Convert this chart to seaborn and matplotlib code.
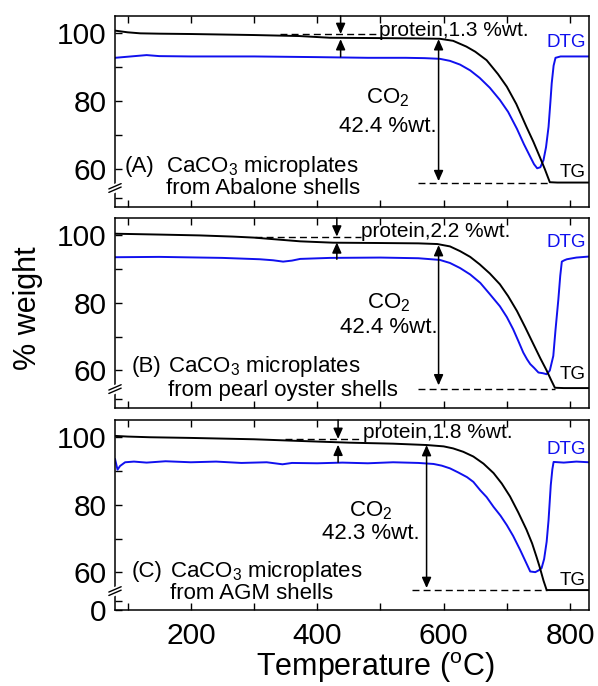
import numpy as np
import pandas as pd
import matplotlib
matplotlib.use("Agg")
import matplotlib.pyplot as plt
from matplotlib.ticker import FixedLocator, NullFormatter, FixedFormatter
import seaborn as sns

# ---------------- data ----------------
temp_tg_A = [80, 100, 120, 150, 200, 300, 372, 420, 500, 560, 594, 615, 636, 650, 668, 686,
             700, 715, 731, 742, 752, 760, 768, 780, 830]
tg_A = [100.8, 100.3, 100.0, 99.9, 99.8, 99.5, 99.2, 98.7, 98.6, 98.5, 98.4, 97.8, 96.1, 94.6,
        92.1, 88.0, 84.3, 79.2, 72.5, 68.1, 63.7, 60.1, 56.2, 56.1, 56.1]
temp_dtg_A = [80, 130, 150, 200, 300, 400, 480, 540, 570, 594, 610, 626, 642, 657, 673, 689,
              702, 716, 727, 737, 743, 748, 753, 758, 762, 766, 769, 771, 774, 777, 785, 830]
dtg_A = [92.8, 93.6, 93.3, 93.2, 93.2, 93.0, 92.8, 92.8, 92.7, 92.5, 91.9, 90.8, 89.1, 86.9,
         84.0, 80.4, 76.9, 71.9, 67.4, 63.7, 61.5, 60.3, 60.6, 62.7, 66.5, 72.5, 80.0, 85.3,
         90.5, 92.8, 93.2, 93.2]

temp_tg_B = [80, 150, 214, 267, 300, 373, 425, 500, 560, 590, 610, 626, 642, 657, 673, 689,
             702, 716, 729, 742, 753, 763, 770, 776, 790, 830]
tg_B = [100.45, 100.2, 99.95, 99.6, 99.3, 98.2, 97.8, 97.7, 97.6, 97.4, 96.7, 95.3, 93.6, 91.4,
        88.7, 85.5, 82.0, 77.6, 72.8, 67.8, 63.6, 60.0, 57.2, 54.9, 54.8, 54.8]
temp_dtg_B = [80, 150, 250, 309, 330, 346, 360, 373, 420, 500, 560, 594, 610, 626, 642, 658,
              673, 689, 700, 710, 718, 726, 732, 737, 743, 750, 757, 763, 768, 773.5, 777,
              781.5, 784.5, 787, 791, 795, 810, 830]
dtg_B = [93.5, 93.6, 93.3, 92.9, 92.6, 92.2, 92.5, 93.0, 93.3, 93.4, 93.2, 92.7, 91.8, 90.3,
         88.4, 85.9, 82.6, 79.0, 75.8, 72.2, 68.8, 65.3, 63.3, 61.9, 60.8, 59.4, 59.2, 58.9,
         60.0, 64.3, 72.0, 81.0, 88.0, 92.2, 92.6, 92.9, 93.4, 93.7]

temp_tg_C = [80, 100, 135, 200, 300, 373, 450, 520, 573, 600, 615, 631, 647, 663, 679, 692,
             705, 718, 731, 740, 747, 752, 758, 763, 780, 830]
tg_C = [100.4, 100.2, 100.0, 99.8, 99.4, 98.9, 98.4, 98.1, 97.7, 97.3, 96.7, 95.7, 94.3, 92.2,
        89.4, 86.3, 82.5, 77.8, 72.7, 68.6, 64.6, 61.6, 57.6, 54.8, 54.8, 54.8]
temp_dtg_C = [80, 84, 88, 96, 110, 130, 160, 200, 240, 280, 320, 345, 360, 400, 440, 480, 520,
              560, 584, 597, 610, 623, 637, 647, 658, 668, 679, 690, 700, 710, 721, 729, 737,
              745, 750, 755, 759, 763, 766, 769.5, 772, 774, 790, 810, 830]
dtg_C = [93.6, 90.4, 91.5, 92.6, 92.8, 92.5, 92.9, 92.6, 92.8, 92.4, 92.6, 92.0, 92.4, 92.3,
         92.5, 92.3, 92.6, 92.4, 92.1, 91.6, 90.8, 89.6, 88.2, 86.8, 84.3, 82.3, 79.4, 76.8,
         74.0, 70.8, 66.7, 63.5, 60.3, 60.1, 60.6, 61.3, 64.0, 69.1, 75.5, 85.8, 90.5, 92.7,
         92.5, 92.8, 92.6]

panel_letters = ["(A)", "(B)", "(C)"]
panel_sources = ["from Abalone shells", "from pearl oyster shells", "from AGM shells"]
protein_pct = ["1.3", "2.2", "1.8"]
co2_pct = ["42.4", "42.4", "42.3"]
# reference levels used by the guide lines / arrows
initial_level = [99.8, 99.6, 99.5]
final_level = [56.1, 54.6, 54.8]
plateau_level = [98.3, 97.9, 97.8]
dtg_base = [93.1, 92.9, 92.6]
co2_top = [98.3, 97.1, 97.7]
co2_bottom = [56.5, 55.6, 55.4]

x_ticks_major = [200, 400, 600, 800]
x_ticks_minor = [100, 300, 500, 700]
y_ticks_major = [60, 80, 100]
y_ticks_minor = [25, 70, 90]

# ---------------- style ----------------
sns.set_theme(style="ticks")
plt.rcParams.update({
    "font.family": ["Liberation Sans", "DejaVu Sans"],
    "mathtext.fontset": "custom",
    "mathtext.rm": "Liberation Sans",
    "mathtext.it": "Liberation Sans:italic",
    "mathtext.default": "regular",
    "axes.linewidth": 1.1,
    "axes.edgecolor": "black",
    "xtick.direction": "in",
    "ytick.direction": "in",
})

BLUE = "#1010ee"
BRK = 54.5
K = 0.1026


def fwd(y):
    y = np.asarray(y, dtype=float)
    return np.where(y >= BRK, y, BRK - (BRK - y) * K)


def inv(t):
    t = np.asarray(t, dtype=float)
    return np.where(t >= BRK, t, BRK - (BRK - t) / K)


fig = plt.figure(figsize=(5.98, 6.86), dpi=100)
left, width = 115 / 598, 474 / 598
tops = [16, 218, 420]
heights = [191, 190, 190]

panels = [
    (temp_tg_A, tg_A, temp_dtg_A, dtg_A),
    (temp_tg_B, tg_B, temp_dtg_B, dtg_B),
    (temp_tg_C, tg_C, temp_dtg_C, dtg_C),
]

# layout per panel (axes fractions / temperatures)
lay = [
    dict(letter=(0.021, 0.182), src=(0.107, 0.182, 0.066), prot=(0.558, 0.895), prot_x=437,
         co2=(0.576, 0.543, 0.394), co2_x=592, dash_top=(341, 494), dash_bot=(559, 768),
         dtg_lab=0.860, tg_lab=0.180),
    dict(letter=(0.035, 0.187), src=(0.112, 0.187, 0.064), prot=(0.520, 0.899), prot_x=431,
         co2=(0.577, 0.522, 0.396), co2_x=592, dash_top=(301, 470), dash_bot=(560, 776),
         dtg_lab=0.871, tg_lab=0.178),
    dict(letter=(0.035, 0.176), src=(0.116, 0.176, 0.058), prot=(0.524, 0.904), prot_x=433,
         co2=(0.540, 0.494, 0.375), co2_x=573, dash_top=(349, 467), dash_bot=(550, 763),
         dtg_lab=0.847, tg_lab=0.153),
]

axes = []
for i, (ttg, tg, tdtg, dtg) in enumerate(panels):
    bottom = 1 - (tops[i] + heights[i]) / 686
    ax = fig.add_axes([left, bottom, width, heights[i] / 686],
                      sharex=axes[0] if axes else None)
    axes.append(ax)
    ax.set_yscale("function", functions=(fwd, inv))

    df_tg = pd.DataFrame({"T": ttg, "w": tg})
    df_dtg = pd.DataFrame({"T": tdtg, "w": dtg})
    sns.lineplot(data=df_dtg, x="T", y="w", ax=ax, color=BLUE, lw=1.4, sort=False,
                 estimator=None)
    sns.lineplot(data=df_tg, x="T", y="w", ax=ax, color="black", lw=1.4, sort=False,
                 estimator=None)

    ax.set_xlim(80, 830)
    ax.set_ylim(0, 105.1)
    ax.set_xlabel("")
    ax.set_ylabel("")

    yt = y_ticks_major + ([0] if i == 2 else [])
    ax.yaxis.set_major_locator(FixedLocator(yt))
    ax.yaxis.set_major_formatter(FixedFormatter([str(v) for v in yt]))
    ax.yaxis.set_minor_locator(FixedLocator(y_ticks_minor))
    ax.yaxis.set_minor_formatter(NullFormatter())
    ax.xaxis.set_major_locator(FixedLocator(x_ticks_major))
    ax.xaxis.set_minor_locator(FixedLocator(x_ticks_minor))
    ax.tick_params(axis="both", which="both", direction="in", length=5, width=1.0,
                   top=True, right=False, colors="black")
    ax.tick_params(axis="y", labelsize=21.5, pad=6)
    ax.tick_params(axis="x", labelsize=21.5, pad=9, labelbottom=(i == 2))
    for s in ax.spines.values():
        s.set_visible(True)
        s.set_linewidth(1.1)
        s.set_color("black")

    # axis break marks on the left spine
    yb = 1 - (188 - 16) / 191
    dx, dy, sep = 0.013, 0.014, 0.009
    ax.fill([-0.004, 0.004, 0.004, -0.004],
            [yb - dy - sep - 0.003, yb - dy - sep + 0.005, yb + dy + sep, yb + dy + sep - 0.008],
            color="white", transform=ax.transAxes, clip_on=False, zorder=5)
    for s in (-sep, sep):
        ax.plot([-dx, dx], [yb - dy + s, yb + dy + s], color="black", lw=1.0,
                transform=ax.transAxes, clip_on=False, zorder=6)

    L = lay[i]
    # guide lines
    ax.plot(list(L["dash_top"]), [initial_level[i]] * 2, color="black", lw=1.0,
            ls=(0, (5, 3)))
    ax.plot(list(L["dash_bot"]), [final_level[i]] * 2, color="black", lw=1.0,
            ls=(0, (5, 3)))

    head = dict(arrowstyle="-|>,head_length=0.45,head_width=0.2", color="black", lw=1.1,
                mutation_scale=14, shrinkA=0, shrinkB=0)
    dbl = dict(arrowstyle="<|-|>,head_length=0.45,head_width=0.2", color="black", lw=1.1,
               mutation_scale=14, shrinkA=0, shrinkB=0)
    px = L["prot_x"]
    ax.annotate("", xy=(px, initial_level[i]), xycoords="data",
                xytext=(px, 1.0), textcoords=("data", "axes fraction"), arrowprops=head)
    ax.annotate("", xy=(px, plateau_level[i]), xycoords="data",
                xytext=(px, dtg_base[i]), textcoords="data", arrowprops=head)
    ax.annotate("", xy=(L["co2_x"], co2_top[i]), xycoords="data",
                xytext=(L["co2_x"], co2_bottom[i]), textcoords="data", arrowprops=dbl)

    ax.text(L["prot"][0], L["prot"][1], f"protein,{protein_pct[i]} %wt.", fontsize=15,
            transform=ax.transAxes, ha="left", va="baseline", color="black")
    ax.text(L["co2"][0], L["co2"][1], "CO$_2$", fontsize=16, transform=ax.transAxes,
            ha="center", va="baseline", color="black")
    ax.text(L["co2"][0], L["co2"][2], f"{co2_pct[i]} %wt.", fontsize=16,
            transform=ax.transAxes, ha="center", va="baseline", color="black")

    ax.text(L["letter"][0], L["letter"][1], panel_letters[i], fontsize=16,
            transform=ax.transAxes, ha="left", va="baseline", color="black")
    ax.text(L["src"][0], L["src"][1], "CaCO$_3$ microplates", fontsize=16,
            transform=ax.transAxes, ha="left", va="baseline", color="black")
    ax.text(L["src"][0], L["src"][2], panel_sources[i], fontsize=16,
            transform=ax.transAxes, ha="left", va="baseline", color="black")

    ax.text(0.953, L["dtg_lab"], "DTG", fontsize=13.5, color=BLUE, transform=ax.transAxes,
            ha="center", va="center")
    ax.text(0.966, L["tg_lab"], "TG", fontsize=13.5, color="black", transform=ax.transAxes,
            ha="center", va="center")

axes[2].set_xlabel("Temperature ($^{o}$C)", fontsize=22, color="black")
axes[2].xaxis.set_label_coords(0.55, -0.212)
axes[1].set_ylabel("% weight", fontsize=22, color="black")
axes[1].yaxis.set_label_coords(-0.152, 0.526)

fig.savefig("out.png", dpi=100, facecolor="white")
